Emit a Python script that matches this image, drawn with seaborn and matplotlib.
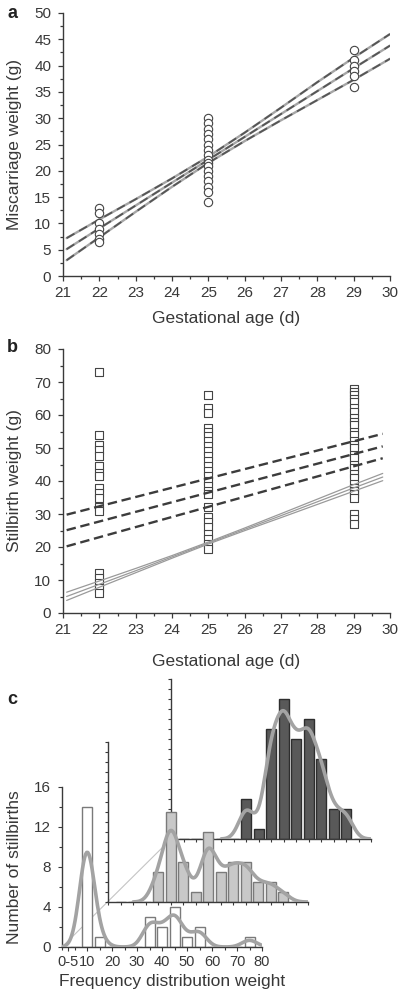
import numpy as np
import pandas as pd
import matplotlib
matplotlib.use("Agg")
import matplotlib.pyplot as plt
import seaborn as sns
from matplotlib.ticker import MultipleLocator, FixedLocator, NullFormatter
from matplotlib.patches import ConnectionPatch

sns.set_theme(style="ticks")
plt.rcParams["font.family"] = ["Liberation Sans", "DejaVu Sans"]

# ---------------- data ----------------
# panel a: miscarriage weight by gestational age
mis_w22 = [13, 12, 10, 9, 8, 7, 6.5]
mis_w25 = [30, 29, 28, 27, 26, 25, 24, 23, 22, 21.5, 21, 20, 19, 18, 17, 16, 14]
mis_w29 = [43, 41, 40, 39, 38, 36]
fit_age_a = [21.1, 22, 23, 24, 25, 26, 27, 28, 29, 30]
fit_a_upper = [7.2, 10.75, 14.6, 18.55, 22.7, 27.25, 32.0, 36.85, 41.5, 46.0]
fit_a_mid = [5.1, 9.05, 13.4, 17.75, 22.1, 26.45, 30.8, 35.15, 39.5, 43.8]
fit_a_lower = [3.0, 7.35, 12.2, 16.95, 21.5, 25.65, 29.6, 33.45, 37.3, 41.3]

# panel b: stillbirth weight by gestational age
sb_w22 = [73, 54, 51, 49.5, 47.5, 44.5, 42.5, 41.5, 38, 36.5, 35, 32, 31,
          12, 10.5, 9, 7.5, 6]
sb_w25 = [66, 62, 60.5, 56, 55, 53.5, 52, 50.5, 49, 47.5, 46, 44.5, 43, 41.5,
          40, 38.5, 37, 36, 32, 29, 27.5, 26, 24, 22.5, 21, 19.5]
sb_w29 = [68, 67, 66, 65, 64, 62, 61, 59, 58, 57, 55, 54, 52, 51, 50, 48, 47,
          45, 44, 42, 41, 39, 38, 37, 36, 35, 30, 28.5, 27]
fit_age_b = [21.1, 22, 23, 24, 25, 26, 27, 28, 29, 29.8]
fit_b_upper = [6.3, 9.7, 13.5, 17.4, 21.5, 25.75, 30.1, 34.5, 38.9, 42.3]
fit_b_mid = [5.0, 8.7, 12.8, 17.0, 21.2, 25.35, 29.5, 33.7, 37.9, 41.2]
fit_b_lower = [3.8, 7.8, 12.2, 16.6, 20.9, 24.95, 28.9, 32.9, 36.9, 40.1]
dash_age_b = [21.1, 29.8]
dash_b_upper = [29.8, 54.3]
dash_b_mid = [25.1, 50.5]
dash_b_lower = [20.2, 46.9]

# panel c: frequency distributions (bin centre in g -> count)
bin_centres = [10, 15, 20, 25, 30, 35, 40, 45, 50, 55, 60, 65, 70, 75]
front_counts = [14, 1, 0, 0, 0, 3, 2, 4, 1, 2, 0, 0, 0, 1]
mid_counts = [0, 0, 3, 9, 4, 1, 7, 3, 4, 4, 2, 2, 1, 0]
back_counts = [0, 0, 0, 0, 4, 1, 11, 14, 10, 12, 8, 3, 3, 0]
c_tick_pos = [2.5, 10, 20, 30, 40, 50, 60, 70, 80]
c_tick_labels = ["0-5", "10", "20", "30", "40", "50", "60", "70", "80"]

# ---------------- figure ----------------
W, H = 400, 1000
fig = plt.figure(figsize=(W / 100, H / 100), dpi=100)
TXT = "#383838"
SP = "#3a3a3a"
TICK_FS = 11
LAB_FS = 12.5


def px_axes(left, top, right, bottom, **kw):
    return fig.add_axes([left / W, 1 - bottom / H, (right - left) / W, (bottom - top) / H], **kw)


def style_axes(ax):
    for s in ["top", "right"]:
        ax.spines[s].set_visible(False)
    for s in ["left", "bottom"]:
        ax.spines[s].set_color(SP)
        ax.spines[s].set_linewidth(1.0)
    ax.tick_params(which="both", direction="out", color=SP, width=0.9,
                   labelsize=TICK_FS, labelcolor=TXT)
    ax.tick_params(which="major", length=3.5)
    ax.tick_params(which="minor", length=2.5)
    ax.tick_params(axis="y", pad=5)
    ax.tick_params(axis="x", pad=3.5)
    ax.patch.set_facecolor("none")


# ---- panel a ----
axa = px_axes(63, 13, 390, 276)
dfa = pd.DataFrame({
    "age": [22] * len(mis_w22) + [25] * len(mis_w25) + [29] * len(mis_w29),
    "weight": mis_w22 + mis_w25 + mis_w29,
})
for ys in (fit_a_upper, fit_a_mid, fit_a_lower):
    sns.lineplot(x=fit_age_a, y=ys, ax=axa, color="#a6a6a6", lw=1.7, zorder=2)
    sns.lineplot(x=fit_age_a, y=ys, ax=axa, color="#555555", lw=1.3,
                 zorder=2.1).lines[-1].set_dashes((5, 3))
sns.scatterplot(data=dfa, x="age", y="weight", ax=axa, marker="o", s=36,
                facecolor="white", edgecolor="#444444", linewidth=0.8, zorder=3)
axa.set_xlim(21, 30)
axa.set_ylim(0, 50)
axa.xaxis.set_major_locator(MultipleLocator(1))
axa.xaxis.set_minor_locator(MultipleLocator(0.5))
axa.yaxis.set_major_locator(MultipleLocator(5))
axa.yaxis.set_minor_locator(MultipleLocator(2.5))
style_axes(axa)
axa.set_xlabel("Gestational age (d)", fontsize=LAB_FS, color=TXT)
axa.set_ylabel("Miscarriage weight (g)", fontsize=LAB_FS, color=TXT)
axa.xaxis.set_label_coords(0.5, -(311 - 276) / 263)
axa.yaxis.set_label_coords(-(63 - 22) / 327, 0.5)

# ---- panel b ----
axb = px_axes(63, 349, 390, 613)
dfb = pd.DataFrame({
    "age": [22] * len(sb_w22) + [25] * len(sb_w25) + [29] * len(sb_w29),
    "weight": sb_w22 + sb_w25 + sb_w29,
})
sns.scatterplot(data=dfb, x="age", y="weight", ax=axb, marker="s", s=26,
                facecolor="white", edgecolor="#444444", linewidth=0.8, zorder=2)
for ys in (fit_b_upper, fit_b_mid, fit_b_lower):
    sns.lineplot(x=fit_age_b, y=ys, ax=axb, color="#9a9a9a", lw=0.9, zorder=3)
for ys in (dash_b_upper, dash_b_mid, dash_b_lower):
    ln = sns.lineplot(x=dash_age_b, y=ys, ax=axb, color="#3c3c3c", lw=1.7, zorder=3).lines[-1]
    ln.set_dashes((4, 2))
axb.set_xlim(21, 30)
axb.set_ylim(0, 80)
axb.xaxis.set_major_locator(MultipleLocator(1))
axb.xaxis.set_minor_locator(MultipleLocator(0.5))
axb.yaxis.set_major_locator(MultipleLocator(10))
axb.yaxis.set_minor_locator(MultipleLocator(5))
style_axes(axb)
axb.set_xlabel("Gestational age (d)", fontsize=LAB_FS, color=TXT)
axb.set_ylabel("Stillbirth weight (g)", fontsize=LAB_FS, color=TXT)
axb.xaxis.set_label_coords(0.5, -(654 - 613) / 264)
axb.yaxis.set_label_coords(-(63 - 22) / 327, 0.5)

# ---- panel c ----
ax_back = px_axes(171, 679, 371, 839)
ax_mid = px_axes(108, 742, 308, 902)
ax_front = px_axes(62, 787, 262, 947)
ax_back.set_zorder(1)
ax_mid.set_zorder(2)
ax_front.set_zorder(3)

edges = np.arange(2.5, 80, 5)
specs = [
    (ax_back, back_counts, "#595959", "#2e2e2e"),
    (ax_mid, mid_counts, "#c8c8c8", "#7a7a7a"),
    (ax_front, front_counts, "white", "#7a7a7a"),
]
for ax, counts, fc, ec in specs:
    vals = np.repeat(bin_centres, counts).astype(float)
    h = 3.0
    adj = h / (np.std(vals, ddof=1) * len(vals) ** -0.2)
    sns.histplot(x=vals, bins=edges, shrink=0.8, kde=True,
                 kde_kws={"bw_adjust": adj, "cut": 3.3},
                 color=fc, edgecolor=ec, linewidth=1.0, alpha=1, ax=ax)
    ax.lines[-1].set_color("#a3a3a3")
    ax.lines[-1].set_linewidth(2.6)
    ax.lines[-1].set_zorder(3)
    ax.lines[-1].set_clip_on(True)
    ax.set_xlim(0, 80)
    ax.set_ylim(0, 16)
    for s in ["top", "right"]:
        ax.spines[s].set_visible(False)
    for s in ["left", "bottom"]:
        ax.spines[s].set_color(SP)
        ax.spines[s].set_linewidth(1.0)
    ax.patch.set_facecolor("none")
    ax.set_xlabel("")
    ax.set_ylabel("")
    ax.tick_params(which="both", direction="out", color=SP, width=0.8,
                   labelsize=10.5, labelcolor=TXT)
    ax.tick_params(which="major", length=3)
    ax.tick_params(which="minor", length=2)

for ax in (ax_back, ax_mid):
    ax.xaxis.set_major_locator(FixedLocator([]))
    ax.yaxis.set_major_locator(FixedLocator([]))
    ax.xaxis.set_minor_locator(MultipleLocator(5))
    ax.yaxis.set_minor_locator(MultipleLocator(1))
    ax.xaxis.set_minor_formatter(NullFormatter())
    ax.yaxis.set_minor_formatter(NullFormatter())

ax_front.xaxis.set_major_locator(FixedLocator(c_tick_pos))
ax_front.set_xticklabels(c_tick_labels)
ax_front.xaxis.set_minor_locator(MultipleLocator(5))
ax_front.yaxis.set_major_locator(MultipleLocator(4))
ax_front.yaxis.set_minor_locator(MultipleLocator(2))
ax_front.tick_params(axis="y", labelsize=TICK_FS, pad=5)
ax_front.tick_params(axis="x", pad=2.5)
ax_front.set_xlabel("Frequency distribution weight", fontsize=LAB_FS, color=TXT)
ax_front.set_ylabel("Number of stillbirths", fontsize=LAB_FS, color=TXT)
ax_front.xaxis.set_label_coords((172 - 62) / 200, -(974 - 947) / 160)
ax_front.yaxis.set_label_coords(-(62 - 22) / 200, 0.5)

con = ConnectionPatch(xyA=(0, 0), coordsA=ax_front.transData,
                      xyB=(0, 0), coordsB=ax_back.transData,
                      color="#c4c4c4", lw=0.8, zorder=1.5)
fig.add_artist(con)

# panel letters
for lab, y in (("a", 13), ("b", 347), ("c", 699)):
    fig.text(12 / W, 1 - y / H, lab, fontsize=13, fontweight="bold",
             color="#222222", ha="center", va="center")

fig.savefig("out.png", dpi=100)
